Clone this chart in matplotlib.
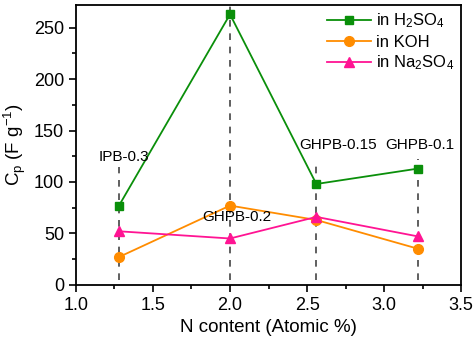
import matplotlib
matplotlib.use("Agg")
import matplotlib.pyplot as plt
from matplotlib.ticker import MultipleLocator

plt.rcParams['font.family'] = ['Liberation Sans', 'DejaVu Sans']
plt.rcParams['mathtext.fontset'] = 'custom'
plt.rcParams['mathtext.rm'] = 'Liberation Sans'
plt.rcParams['mathtext.it'] = 'Liberation Sans:italic'

n_content = [1.28, 2.0, 2.56, 3.22]
h2so4 = [77, 263, 98, 113]
koh = [27, 77, 63, 35]
na2so4 = [52, 45, 66, 47]
samples = ["IPB-0.3", "GHPB-0.2", "GHPB-0.15", "GHPB-0.1"]
dash_top = [115, 272, 120, 122]
label_pos = [(1.31, 124), (2.045, 66), (2.70, 136), (3.23, 136)]

fig = plt.figure(figsize=(4.77, 3.39), dpi=100)
ax = fig.add_axes([0.159, 0.16, 0.808, 0.825])

for x, top in zip(n_content, dash_top):
    ax.plot([x, x], [5, top], ls=(0, (4, 4)), color="#444444", lw=1.2, zorder=1)

ax.plot(n_content, h2so4, color="#0a8f0a", marker="s", ms=5.5, lw=1.3,
        label="in H$_2$SO$_4$", zorder=3)
ax.plot(n_content, koh, color="#ff8c00", marker="o", ms=7, lw=1.3,
        label="in KOH", zorder=3)
ax.plot(n_content, na2so4, color="#ff1493", marker="^", ms=7.5, lw=1.3,
        label="in Na$_2$SO$_4$", zorder=3)

for s, (x, y) in zip(samples, label_pos):
    ax.text(x, y, s, ha="center", va="center", fontsize=11)

ax.set_xlim(1.0, 3.5)
ax.set_ylim(0, 272)
ax.xaxis.set_major_locator(MultipleLocator(0.5))
ax.xaxis.set_minor_locator(MultipleLocator(0.25))
ax.yaxis.set_major_locator(MultipleLocator(50))
ax.yaxis.set_minor_locator(MultipleLocator(25))
ax.tick_params(which="major", length=5, width=1.2, labelsize=13)
ax.tick_params(which="minor", length=3, width=1.2)
for sp in ax.spines.values():
    sp.set_linewidth(1.3)

ax.set_xlabel("N content (Atomic %)", fontsize=13.5)
ax.set_ylabel("C$_\\mathrm{p}$ (F g$^{-1}$)", fontsize=13.5)

ax.legend(loc="upper right", frameon=False, fontsize=12, handlelength=2.6,
          handletextpad=0.3, bbox_to_anchor=(1.02, 1.03), labelspacing=0.25)

fig.savefig("out.png", dpi=100)
